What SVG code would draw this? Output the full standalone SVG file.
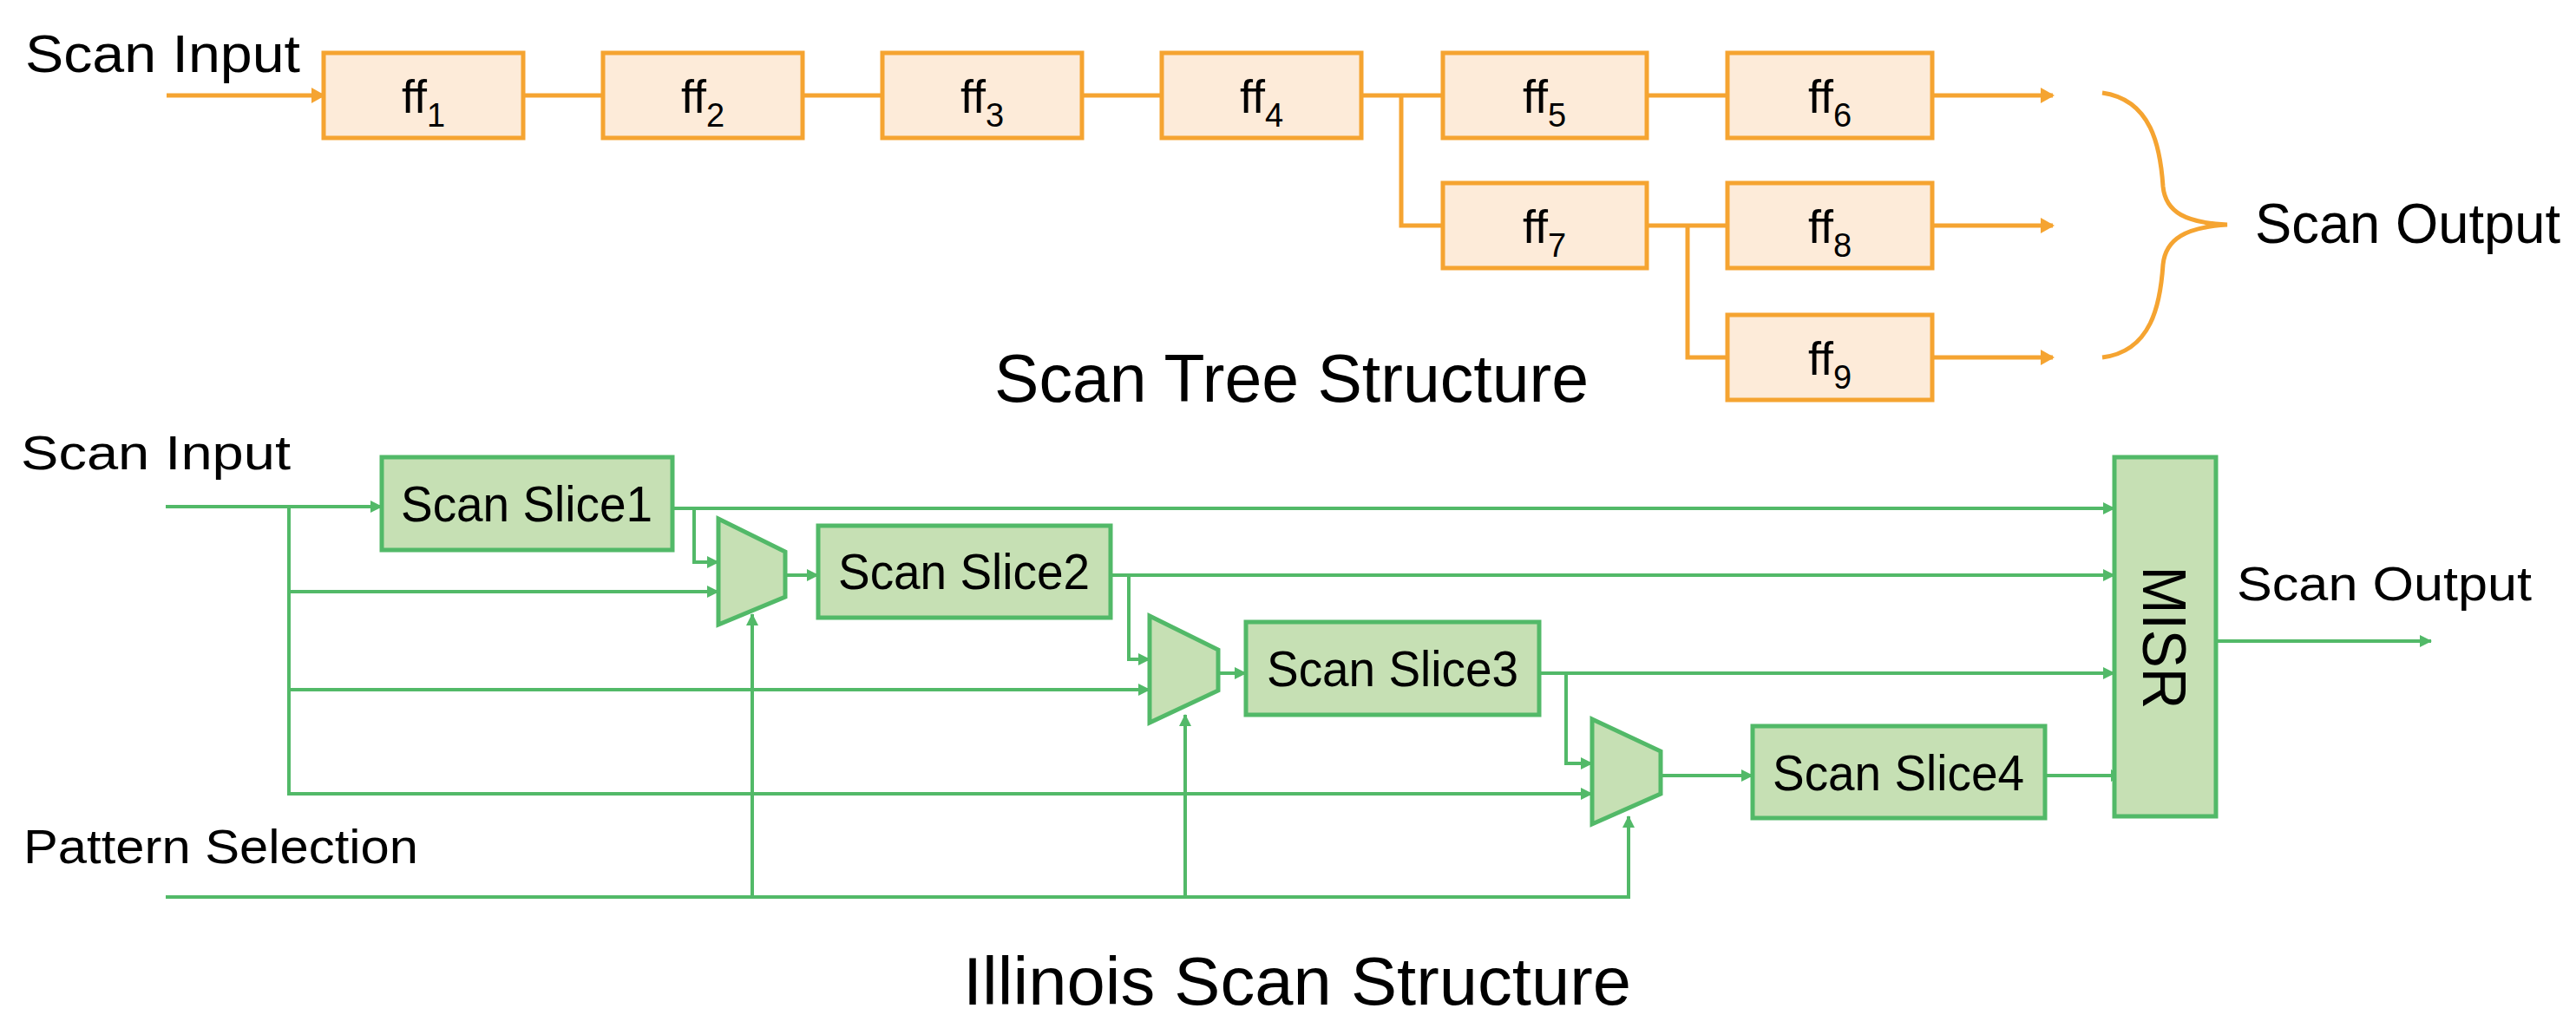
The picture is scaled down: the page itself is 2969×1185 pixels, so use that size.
<svg xmlns="http://www.w3.org/2000/svg" width="2969" height="1185" viewBox="0 0 2969 1185">
<style>
.t{font-family:"Liberation Sans",Arial,sans-serif;fill:#000}
.ff rect{fill:#FDEBD9;stroke:#F5A431;stroke-width:5}
.ow{fill:none;stroke:#F5A431;stroke-width:5}
.gw{fill:none;stroke:#52B968;stroke-width:4}
.gb rect,.gb path{fill:#C6E0B4;stroke:#52B968;stroke-width:5}
</style>
<defs>
<marker id="ao" markerUnits="userSpaceOnUse" markerWidth="16" markerHeight="18" refX="14" refY="9" orient="auto"><path d="M0,0 L16,9 L0,18 Z" fill="#F5A431"/></marker>
<marker id="ag" markerUnits="userSpaceOnUse" markerWidth="14" markerHeight="14" refX="13" refY="7" orient="auto"><path d="M0,0 L14,7 L0,14 Z" fill="#52B968"/></marker>
</defs>
<text class="t" x="29" y="83" font-size="62" textLength="317" lengthAdjust="spacingAndGlyphs">Scan Input</text>
<g id="tree-connectors">
<path class="ow" d="M192,110 H373" marker-end="url(#ao)"/>
<path class="ow" d="M603,110 H695 M925,110 H1017 M1247,110 H1339 M1569,110 H1663 M1898,110 H1991"/>
<path class="ow" d="M1615,110 V260 H1663 M1898,260 H1991 M1945,260 V412 H1991"/>
<path class="ow" d="M2227,110 H2366" marker-end="url(#ao)"/>
<path class="ow" d="M2227,260 H2366" marker-end="url(#ao)"/>
<path class="ow" d="M2227,412 H2366" marker-end="url(#ao)"/>
<path class="ow" stroke-width="4" d="M2423,107 C2480,115 2490,170 2493,215 C2496,245 2520,257 2567,259 C2520,262 2496,275 2493,305 C2490,350 2480,405 2423,412"/>
</g>
<g id="ff1" class="ff"><rect x="373" y="61" width="230" height="98"/><text class="t" x="488" y="130" font-size="54" text-anchor="middle">ff<tspan font-size="38" dy="16">1</tspan></text></g>
<g id="ff2" class="ff"><rect x="695" y="61" width="230" height="98"/><text class="t" x="810" y="130" font-size="54" text-anchor="middle">ff<tspan font-size="38" dy="16">2</tspan></text></g>
<g id="ff3" class="ff"><rect x="1017" y="61" width="230" height="98"/><text class="t" x="1132" y="130" font-size="54" text-anchor="middle">ff<tspan font-size="38" dy="16">3</tspan></text></g>
<g id="ff4" class="ff"><rect x="1339" y="61" width="230" height="98"/><text class="t" x="1454" y="130" font-size="54" text-anchor="middle">ff<tspan font-size="38" dy="16">4</tspan></text></g>
<g id="ff5" class="ff"><rect x="1663" y="61" width="235" height="98"/><text class="t" x="1780" y="130" font-size="54" text-anchor="middle">ff<tspan font-size="38" dy="16">5</tspan></text></g>
<g id="ff6" class="ff"><rect x="1991" y="61" width="236" height="98"/><text class="t" x="2109" y="130" font-size="54" text-anchor="middle">ff<tspan font-size="38" dy="16">6</tspan></text></g>
<g id="ff7" class="ff"><rect x="1663" y="211" width="235" height="98"/><text class="t" x="1780" y="280" font-size="54" text-anchor="middle">ff<tspan font-size="38" dy="16">7</tspan></text></g>
<g id="ff8" class="ff"><rect x="1991" y="211" width="236" height="98"/><text class="t" x="2109" y="280" font-size="54" text-anchor="middle">ff<tspan font-size="38" dy="16">8</tspan></text></g>
<g id="ff9" class="ff"><rect x="1991" y="363" width="236" height="98"/><text class="t" x="2109" y="432" font-size="54" text-anchor="middle">ff<tspan font-size="38" dy="16">9</tspan></text></g>
<text class="t" x="2599" y="280" font-size="64" textLength="352" lengthAdjust="spacingAndGlyphs">Scan Output</text>
<text class="t" x="1146" y="463" font-size="78" textLength="685" lengthAdjust="spacingAndGlyphs">Scan Tree Structure</text>

<text class="t" x="24" y="541" font-size="56" textLength="311" lengthAdjust="spacingAndGlyphs">Scan Input</text>
<text class="t" x="27" y="995" font-size="56" textLength="455" lengthAdjust="spacingAndGlyphs">Pattern Selection</text>
<text class="t" x="2578" y="692" font-size="56" textLength="340" lengthAdjust="spacingAndGlyphs">Scan Output</text>
<text class="t" x="1110" y="1158" font-size="78" textLength="770" lengthAdjust="spacingAndGlyphs">Illinois Scan Structure</text>
<g id="illinois-connectors">
<path class="gw" stroke-width="8" d="M191,584 H335"/>
<path class="gw" d="M333,584 H440" marker-end="url(#ag)"/>
<path class="gw" d="M333,584 V915 H1835" marker-end="url(#ag)"/>
<path class="gw" d="M333,682 H828" marker-end="url(#ag)"/>
<path class="gw" d="M333,795 H1325" marker-end="url(#ag)"/>
<path class="gw" d="M775,586 H2437" marker-end="url(#ag)"/>
<path class="gw" d="M800,586 V648 H828" marker-end="url(#ag)"/>
<path class="gw" d="M905,663 H943" marker-end="url(#ag)"/>
<path class="gw" d="M1280,663 H2437" marker-end="url(#ag)"/>
<path class="gw" d="M1301,663 V760 H1325" marker-end="url(#ag)"/>
<path class="gw" d="M1404,776 H1436" marker-end="url(#ag)"/>
<path class="gw" d="M1774,776 H2437" marker-end="url(#ag)"/>
<path class="gw" d="M1805,776 V880 H1835" marker-end="url(#ag)"/>
<path class="gw" d="M1914,894 H2020" marker-end="url(#ag)"/>
<path class="gw" d="M2357,894 H2446" marker-end="url(#ag)"/>
<path class="gw" d="M191,1034 H1877 V941" marker-end="url(#ag)"/>
<path class="gw" d="M867,1034 V708" marker-end="url(#ag)"/>
<path class="gw" d="M1366,1034 V824" marker-end="url(#ag)"/>
<path class="gw" d="M2554,739 H2802" marker-end="url(#ag)"/>
</g>
<g id="slice1" class="gb"><rect x="440" y="527" width="335" height="107"/><text class="t" x="607" y="601" font-size="58" text-anchor="middle" textLength="290" lengthAdjust="spacingAndGlyphs">Scan Slice1</text></g>
<g id="mux1" class="gb"><path d="M828,598 L905,636 L905,688 L828,720 Z"/></g>
<g id="slice2" class="gb"><rect x="943" y="606" width="337" height="106"/><text class="t" x="1111" y="679" font-size="58" text-anchor="middle" textLength="290" lengthAdjust="spacingAndGlyphs">Scan Slice2</text></g>
<g id="mux2" class="gb"><path d="M1325,710 L1404,749 L1404,796 L1325,833 Z"/></g>
<g id="slice3" class="gb"><rect x="1436" y="717" width="338" height="107"/><text class="t" x="1605" y="791" font-size="58" text-anchor="middle" textLength="290" lengthAdjust="spacingAndGlyphs">Scan Slice3</text></g>
<g id="mux3" class="gb"><path d="M1835,829 L1914,866 L1914,915 L1835,950 Z"/></g>
<g id="slice4" class="gb"><rect x="2020" y="837" width="337" height="106"/><text class="t" x="2188" y="911" font-size="58" text-anchor="middle" textLength="290" lengthAdjust="spacingAndGlyphs">Scan Slice4</text></g>
<g id="misr" class="gb"><rect x="2437" y="527" width="117" height="414"/><text class="t" font-size="70" text-anchor="middle" textLength="165" lengthAdjust="spacingAndGlyphs" transform="translate(2470,735) rotate(90)">MISR</text></g>
</svg>
